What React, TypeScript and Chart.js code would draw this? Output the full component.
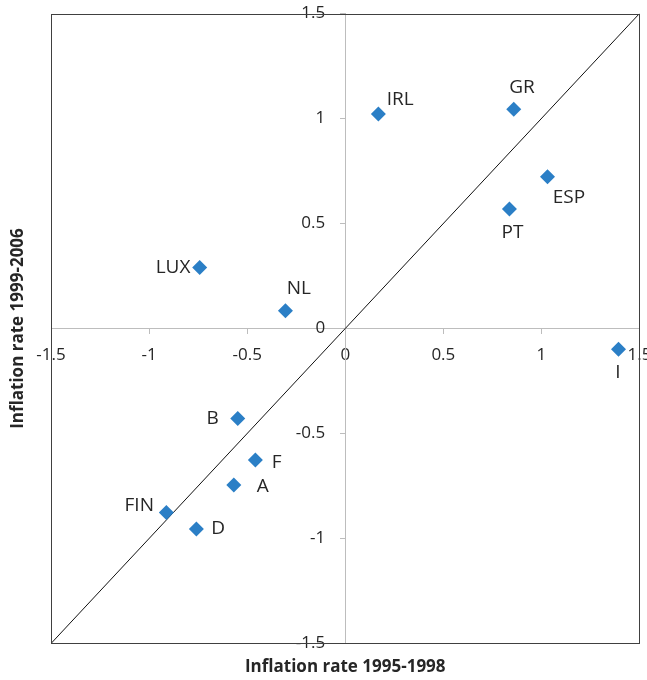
import { useEffect, useRef } from 'react';
import { Chart, registerables } from 'chart.js';

Chart.register(...registerables);

const countries = ['IRL', 'GR', 'ESP', 'PT', 'LUX', 'NL', 'I', 'B', 'F', 'A', 'FIN', 'D'];
const inflation1995to1998 = [0.169, 0.859, 1.031, 0.837, -0.742, -0.305, 1.393, -0.548, -0.458, -0.568, -0.912, -0.759];
const inflation1999to2006 = [1.021, 1.044, 0.723, 0.569, 0.29, 0.085, -0.099, -0.428, -0.626, -0.745, -0.876, -0.955];
const diagonalX = [-1.5, 1.5];
const diagonalY = [-1.5, 1.5];
const axisTicks = [-1.5, -1, -0.5, 0, 0.5, 1, 1.5];
const xAxisTitle = 'Inflation rate 1995-1998';
const yAxisTitle = 'Inflation rate 1999-2006';

const FONT = '"Open Sans", "DejaVu Sans", sans-serif';
const POINT_COLOR = '#2b7fc6';
const TEXT_COLOR = '#262626';
const AXIS_COLOR = '#bdbdbd';
const Y_LABEL_GAP = 20;

type Placement = { align: CanvasTextAlign; dx: number; dy: number };
const labelPlacement: Record<string, Placement> = {
  IRL: { align: 'left', dx: 8.4, dy: -15.7 },
  GR: { align: 'center', dx: 8.3, dy: -22.6 },
  ESP: { align: 'left', dx: 5.3, dy: 19.3 },
  PT: { align: 'center', dx: 3, dy: 22.7 },
  LUX: { align: 'right', dx: -9.3, dy: -1 },
  NL: { align: 'center', dx: 13.5, dy: -23.4 },
  I: { align: 'center', dx: -0.7, dy: 22.4 },
  B: { align: 'right', dx: -19, dy: -1.6 },
  F: { align: 'left', dx: 16.3, dy: 1 },
  A: { align: 'left', dx: 23, dy: 0.7 },
  FIN: { align: 'right', dx: -12.4, dy: -8.3 },
  D: { align: 'left', dx: 15, dy: -1.7 },
};

const LABEL_SIZE = 19;

const pointLabels = {
  id: 'pointLabels',
  afterDatasetsDraw(chart: any) {
    const meta = chart.getDatasetMeta(0);
    const ctx = chart.ctx as CanvasRenderingContext2D;
    ctx.save();
    ctx.font = `${LABEL_SIZE}px ${FONT}`;
    ctx.fillStyle = TEXT_COLOR;
    ctx.textBaseline = 'alphabetic';
    meta.data.forEach((el: any, i: number) => {
      const name = countries[i];
      const p = labelPlacement[name];
      ctx.textAlign = p.align;
      ctx.fillText(name, el.x + p.dx, el.y + p.dy + LABEL_SIZE * 0.357);
    });
    ctx.restore();
  },
};

// the centred y axis puts its labels on the axis line; move them left of the tick marks
const yLabelOffset = {
  id: 'yLabelOffset',
  beforeDraw(chart: any) {
    const ys = chart.scales.y;
    const items = ys.getLabelItems(chart.chartArea);
    items.forEach((item: any) => {
      if (item.__shifted) return;
      const t = item.options.translation;
      item.options.translation = [t[0] - Y_LABEL_GAP, t[1]];
      item.__shifted = true;
    });
  },
};

const plotFrame = {
  id: 'plotFrame',
  afterDraw(chart: any) {
    const { ctx, chartArea: a } = chart;
    ctx.save();
    ctx.strokeStyle = '#404040';
    ctx.lineWidth = 1;
    const l = Math.round(a.left) + 0.5;
    const t = Math.round(a.top) + 0.5;
    const r = Math.round(a.right) - 0.5;
    const b = Math.round(a.bottom) - 0.5;
    ctx.strokeRect(l, t, r - l, b - t);
    ctx.restore();
  },
};

const zeroPadding = (s: any) => {
  s.paddingLeft = 0;
  s.paddingRight = 0;
  s.paddingTop = 0;
  s.paddingBottom = 0;
};

export default function App() {
  const ref = useRef<HTMLCanvasElement | null>(null);

  useEffect(() => {
    if (!ref.current) return;
    const chart = new Chart(ref.current, {
      type: 'scatter',
      data: {
        datasets: [
          {
            label: 'Countries',
            data: countries.map((_, i) => ({ x: inflation1995to1998[i], y: inflation1999to2006[i] })),
            pointStyle: 'rectRot',
            pointRadius: 7.5,
            pointHoverRadius: 7.5,
            backgroundColor: POINT_COLOR,
            borderWidth: 0,
          },
          {
            label: 'Diagonal',
            data: diagonalX.map((x, i) => ({ x, y: diagonalY[i] })),
            showLine: true,
            borderColor: '#111111',
            borderWidth: 1,
            pointRadius: 0,
            pointHoverRadius: 0,
            fill: false,
          },
        ],
      } as any,
      options: {
        animation: false,
        responsive: false,
        events: [],
        layout: { padding: { left: 0, right: 6, top: 13.5, bottom: 0 } },
        scales: {
          x: {
            type: 'linear',
            min: -1.5,
            max: 1.5,
            position: { y: 0 } as any,
            afterBuildTicks: (s: any) => {
              s.ticks = axisTicks.map((v) => ({ value: v }));
            },
            afterFit: zeroPadding,
            grid: { display: true, drawOnChartArea: false, drawTicks: true, tickLength: 5, color: AXIS_COLOR },
            border: { display: true, color: AXIS_COLOR, width: 1 },
            ticks: {
              padding: 11,
              autoSkip: false,
              maxRotation: 0,
              color: TEXT_COLOR,
              font: { family: FONT, size: 17 },
              callback: (v: any) => String(v),
            },
          },
          y: {
            type: 'linear',
            min: -1.5,
            max: 1.5,
            position: { x: 0 } as any,
            afterBuildTicks: (s: any) => {
              s.ticks = axisTicks.map((v) => ({ value: v }));
            },
            afterFit: zeroPadding,
            grid: { display: true, drawOnChartArea: false, drawTicks: true, tickLength: 5, color: AXIS_COLOR },
            border: { display: true, color: AXIS_COLOR, width: 1 },
            ticks: {
              padding: 15,
              autoSkip: false,
              color: TEXT_COLOR,
              font: { family: FONT, size: 17 },
              callback: (v: any) => String(v),
            },
          },
        },
        plugins: {
          legend: { display: false },
          tooltip: { enabled: false },
          title: {
            display: true,
            text: xAxisTitle,
            position: 'bottom',
            fullSize: false,
            color: TEXT_COLOR,
            font: { family: FONT, size: 17, weight: 'bold', lineHeight: 1.2 },
            padding: { top: 13.8, bottom: 2.3 },
          },
          subtitle: {
            display: true,
            text: yAxisTitle,
            position: 'left',
            fullSize: false,
            color: TEXT_COLOR,
            font: { family: FONT, size: 17, weight: 'bold', lineHeight: 1.2 },
            padding: { top: 7.6, bottom: 23 },
          },
        },
      } as any,
      plugins: [yLabelOffset, pointLabels, plotFrame],
    });
    return () => chart.destroy();
  }, []);

  return (
    <div style={{ position: 'absolute', left: 0, top: 0, width: 647, height: 680 }}>
      <canvas ref={ref} width={647} height={680} style={{ display: 'block' }} />
    </div>
  );
}
